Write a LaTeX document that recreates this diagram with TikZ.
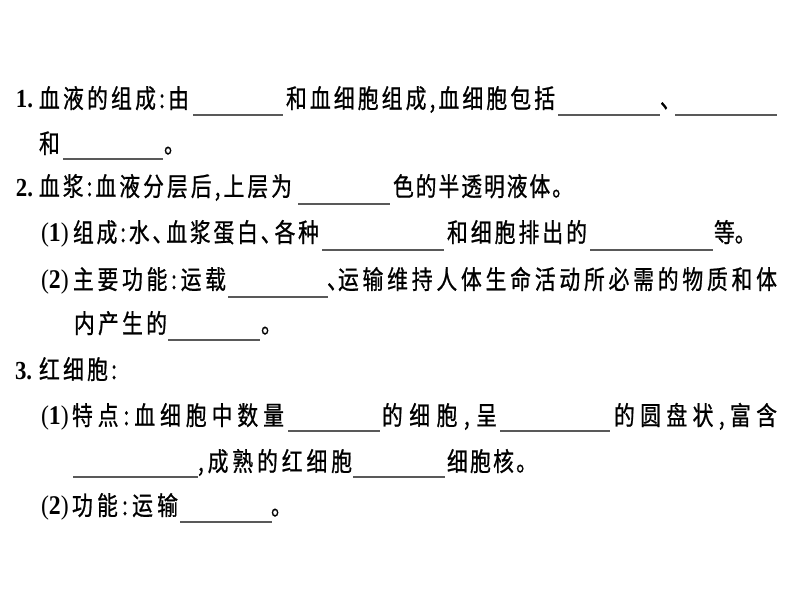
\documentclass[tikz,border=0pt]{standalone}
\usepackage{fontspec}
\newfontfamily\cjkfont[FakeStretch=0.8,FakeBold=0.8]{Noto Sans CJK SC}
\newfontfamily\latinfont[FakeStretch=0.88]{Liberation Serif}
\newcommand\spreadto[2]{\makebox[#1][s]{\sprfirst#2\relax}}
\def\sprfirst#1{#1\sprrest}
\def\sprrest#1{\ifx#1\relax\else\hfil#1\expandafter\sprrest\fi}
\newcommand\dun{\makebox[11pt][l]{、}}
\newcommand\pnum[1]{(\textbf{#1})}
\tikzset{
  seg/.style={anchor=base west, inner sep=0pt, outer sep=0pt, font=\cjkfont\fontsize{26}{26}\selectfont},
  num/.style={anchor=base west, inner sep=0pt, outer sep=0pt, font=\latinfont\bfseries\fontsize{26}{26}\selectfont},
  par/.style={anchor=base west, inner sep=0pt, outer sep=0pt, font=\latinfont\fontsize{27}{27}\selectfont},
  blank/.style={draw=black!65, line width=1.3pt}
}
\begin{document}
\begin{tikzpicture}[x=1pt,y=-1pt]
\useasboundingbox[fill=white] (0,0) rectangle (794,596);
% line 1
\node[num] (n1) at (16,108) {1.};
\node[seg] (l1a) at (39,108) {\spreadto{150pt}{血液的组成:由}};
\node[seg] (l1b) at (286,108) {\spreadto{269pt}{和血细胞组成,血细胞包括}};
\node[seg] (l1c) at (660,108) {、};
\draw[blank] (193,115) -- (283,115);
\draw[blank] (558,115) -- (660,115);
\draw[blank] (675,115) -- (777,115);
% line 2
\node[seg] (l2a) at (39,153) {和};
\node[seg] (l2b) at (164,153) {。};
\draw[blank] (63,159) -- (163,159);
% line 3
\node[num] (n2) at (16,196) {2.};
\node[seg] (l3a) at (39,196) {\spreadto{253pt}{血浆:血液分层后,上层为}};
\node[seg] (l3b) at (393,196) {\spreadto{180pt}{色的半透明液体。}};
\draw[blank] (298,204) -- (390,204);
% line 4
\node[par] (p41) at (41,241) {\pnum{1}};
\node[seg] (l4a) at (73,242) {\spreadto{246pt}{组成:水\dun 血浆蛋白\dun 各种}};
\node[seg] (l4b) at (447,242) {\spreadto{140pt}{和细胞排出的}};
\node[seg] (l4c) at (714,242) {等。};
\draw[blank] (322,250) -- (444,250);
\draw[blank] (590,250) -- (713,250);
% line 5
\node[par] (p52) at (41,288) {\pnum{2}};
\node[seg] (l5a) at (73,289) {\spreadto{153pt}{主要功能:运载}};
\node[seg] (l5b) at (327,289) {、};
\node[seg] (l5c) at (338,289) {\spreadto{439pt}{运输维持人体生命活动所必需的物质和体}};
\draw[blank] (228,297) -- (328,297);
% line 6
\node[seg] (l6a) at (74,333) {\spreadto{93pt}{内产生的}};
\node[seg] (l6b) at (261,333) {。};
\draw[blank] (168,340) -- (260,340);
% line 7
\node[num] (n3) at (15,379) {3.};
\node[seg] (l7a) at (39,379) {\spreadto{78pt}{红细胞:}};
% line 8
\node[par] (p81) at (41,424) {\pnum{1}};
\node[seg] (l8a) at (72,425) {\spreadto{212pt}{特点:血细胞中数量}};
\node[seg] (l8b) at (382,425) {\spreadto{115pt}{的细胞,呈}};
\node[seg] (l8c) at (614,425) {\spreadto{163pt}{的圆盘状,富含}};
\draw[blank] (288,431) -- (380,431);
\draw[blank] (500,431) -- (610,431);
% line 9
\node[seg] (l9a) at (198,471) {\spreadto{154pt}{,成熟的红细胞}};
\node[seg] (l9b) at (447,471) {\spreadto{90pt}{细胞核。}};
\draw[blank] (73,477) -- (198,477);
\draw[blank] (353,477) -- (445,477);
% line 10
\node[par] (p102) at (41,514) {\pnum{2}};
\node[seg] (l10a) at (72,515) {\spreadto{106pt}{功能:运输}};
\node[seg] (l10b) at (271,515) {。};
\draw[blank] (180,522) -- (272,522);
\end{tikzpicture}
\end{document}
